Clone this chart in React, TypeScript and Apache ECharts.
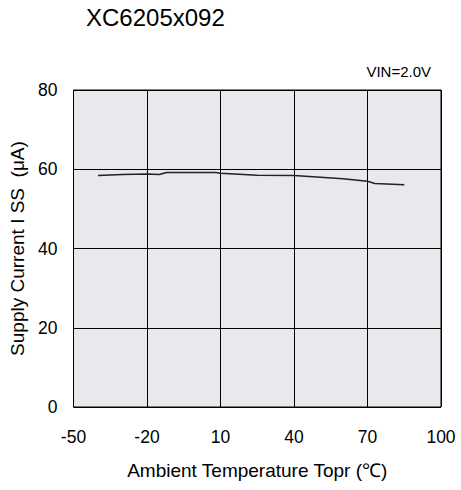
import React, { useEffect, useRef } from "react";
import * as echarts from "echarts";

const title = "XC6205x092";
const condition = "VIN=2.0V";
const xAxisName = "Ambient Temperature Topr (℃)";
const yAxisName = "Supply Current I SS  (μA)";
const temperatures = [-40, -30, -20, -15, -12, 8, 10, 25, 40, 60, 70, 73, 85];
const supplyCurrent = [58.4, 58.7, 58.8, 58.7, 59.2, 59.2, 59.0, 58.5, 58.4, 57.6, 56.95, 56.4, 56.1];

export default function App() {
  const ref = useRef<HTMLDivElement>(null);
  useEffect(() => {
    if (!ref.current) return;
    const chart = echarts.init(ref.current, undefined, { renderer: "svg" });
    const font = "Liberation Sans, Arial, sans-serif";
    chart.setOption({
      animation: false,
      backgroundColor: "#ffffff",
      textStyle: { fontFamily: font },
      title: [
        { text: title, left: 86, top: 5, padding: 0, textStyle: { fontFamily: font, fontSize: 24, fontWeight: "normal", color: "#000" } },
        { text: condition, right: 30, top: 64, padding: 0, textStyle: { fontFamily: font, fontSize: 15, fontWeight: "normal", color: "#000" } },
      ],
      grid: {
        left: 73.5,
        top: 90,
        width: 367.5,
        height: 317,
        show: true,
        backgroundColor: "#e9e9ed",
        borderColor: "#000",
        borderWidth: 1,
        containLabel: false,
      },
      xAxis: {
        type: "value",
        min: -50,
        max: 100,
        interval: 30,
        name: xAxisName,
        nameLocation: "middle",
        nameGap: 54,
        nameTextStyle: { fontSize: 19, color: "#000" },
        axisLine: { show: false },
        axisTick: { show: false },
        axisLabel: { fontSize: 17.5, color: "#000", margin: 21 },
        splitLine: { show: true, lineStyle: { color: "#000", width: 1 } },
      },
      yAxis: {
        type: "value",
        min: 0,
        max: 80,
        interval: 20,
        name: yAxisName,
        nameLocation: "middle",
        nameGap: 44,
        nameTextStyle: { fontSize: 19, color: "#000" },
        axisLine: { show: false },
        axisTick: { show: false },
        axisLabel: { fontSize: 17.5, color: "#000", margin: 16 },
        splitLine: { show: true, lineStyle: { color: "#000", width: 1 } },
      },
      series: [
        {
          type: "line",
          data: temperatures.map((t, i) => [t, supplyCurrent[i]]),
          showSymbol: false,
          lineStyle: { color: "#222", width: 1.5 },
        },
      ],
    });
    return () => chart.dispose();
  }, []);
  return <div ref={ref} style={{ position: "fixed", left: 0, top: 0, width: 461, height: 490 }} />;
}
